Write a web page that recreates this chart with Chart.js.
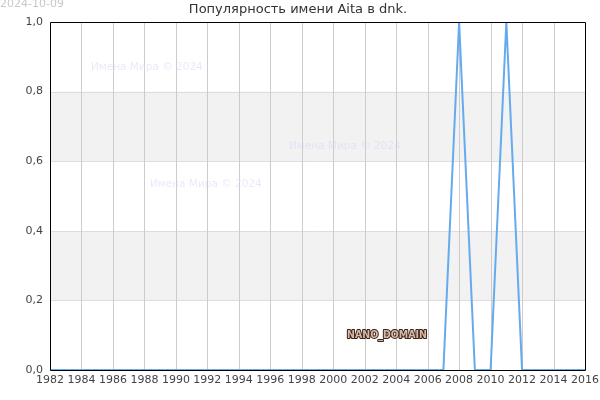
<!DOCTYPE html>
<html><head><meta charset="utf-8">
<script src="https://cdn.jsdelivr.net/npm/chart.js@4"></script>
<style>html,body{margin:0;padding:0;background:#fff}#w{width:600px;height:400px}</style>
</head><body><div id="w"><canvas id="c" width="600" height="400"></canvas></div>
<script>
const years = [1982,1983,1984,1985,1986,1987,1988,1989,1990,1991,1992,1993,1994,1995,1996,1997,1998,1999,2000,2001,2002,2003,2004,2005,2006,2007,2008,2009,2010,2011,2012,2013,2014,2015,2016];
const values = [0,0,0,0,0,0,0,0,0,0,0,0,0,0,0,0,0,0,0,0,0,0,0,0,0,0,1,0,0,1,0,0,0,0,0];
const titleText = 'Популярность имени Aita в dnk.';
const dateText = '2024-10-09';
const watermarkText = 'Имена Мира © 2024';
const domainText = 'NANO_DOMAIN';
const bands = [[0.2,0.4],[0.6,0.8]];

const F = 'DejaVu Sans';
const deco = {
  id:'deco',
  beforeDatasetsDraw(chart){
    const {ctx, chartArea:a, scales:{x,y}} = chart;
    ctx.save();
    ctx.fillStyle = '#f2f2f2';
    bands.forEach(b=>{
      const y1 = y.getPixelForValue(b[1]), y0 = y.getPixelForValue(b[0]);
      ctx.fillRect(a.left, y1, a.right-a.left, y0-y1);
    });
    ctx.strokeStyle = '#dddddd'; ctx.lineWidth = 1;
    [0.2,0.4,0.6,0.8].forEach(v=>{
      const py = Math.round(y.getPixelForValue(v))+0.5;
      ctx.beginPath(); ctx.moveTo(a.left,py); ctx.lineTo(a.right,py); ctx.stroke();
    });
    ctx.strokeStyle = '#cccccc';
    for(let yr=1984; yr<2016; yr+=2){
      const px = Math.round(x.getPixelForValue(yr))+0.5;
      ctx.beginPath(); ctx.moveTo(px,a.top); ctx.lineTo(px,a.bottom); ctx.stroke();
    }
    ctx.font = '10.5px "'+F+'"';
    ctx.fillStyle = 'rgba(215,215,250,0.55)';
    ctx.textBaseline = 'middle'; ctx.textAlign = 'left';
    ctx.fillText(watermarkText, 91, 67);
    ctx.fillText(watermarkText, 289, 146);
    ctx.fillText(watermarkText, 150, 184);
    ctx.restore();
  },
  afterDraw(chart){
    const {ctx, chartArea:a} = chart;
    ctx.save();
    ctx.font = '13px "'+F+'"';
    ctx.fillStyle = '#333';
    ctx.textAlign = 'center'; ctx.textBaseline = 'middle';
    ctx.fillText(titleText, 298, 10);
    ctx.font = '11px "'+F+'"';
    ctx.fillStyle = '#c8c8c8'; ctx.textAlign = 'left';
    ctx.fillText(dateText, 0, 4);
    ctx.font = 'bold 10.5px "DejaVu Sans Condensed"';
    ctx.textAlign = 'center';
    ctx.lineWidth = 2; ctx.strokeStyle = '#3a2418'; ctx.lineJoin = 'round';
    ctx.strokeText(domainText, 387, 335);
    ctx.fillStyle = '#d8b8a8';
    ctx.fillText(domainText, 387, 335);
    ctx.strokeStyle = '#000'; ctx.lineWidth = 1;
    ctx.strokeRect(Math.round(a.left)+0.5, Math.round(a.top)+0.5, Math.round(a.right-a.left), Math.round(a.bottom-a.top));
    ctx.restore();
  }
};

new Chart(document.getElementById('c'), {
  type:'line',
  data:{ datasets:[{ data: years.map((yr,i)=>({x:yr,y:values[i]})), borderColor:'#66aaee', borderWidth:2, pointRadius:0, tension:0, fill:false }]},
  options:{
    responsive:false, animation:false,
    layout:{padding:{top:22,right:15,left:0,bottom:0}},
    plugins:{legend:{display:false},title:{display:false},tooltip:{enabled:false}},
    scales:{
      x:{type:'linear',min:1982,max:2016,
        ticks:{stepSize:2,color:'#444',font:{family:F,size:11},padding:4,maxRotation:0,autoSkip:false,callback:v=>String(v)},
        grid:{display:false,drawTicks:false},border:{display:false},
        afterFit(s){s.height=30;s.paddingLeft=0;s.paddingRight=0;}},
      y:{min:0,max:1,
        ticks:{stepSize:0.2,color:'#444',font:{family:F,size:11},padding:7,callback:v=>v.toFixed(1).replace('.',',')},
        grid:{display:false,drawTicks:false},border:{display:false},
        afterFit(s){s.width=50;s.paddingTop=0;s.paddingBottom=0;}}
    }
  },
  plugins:[deco]
});
</script></body></html>
